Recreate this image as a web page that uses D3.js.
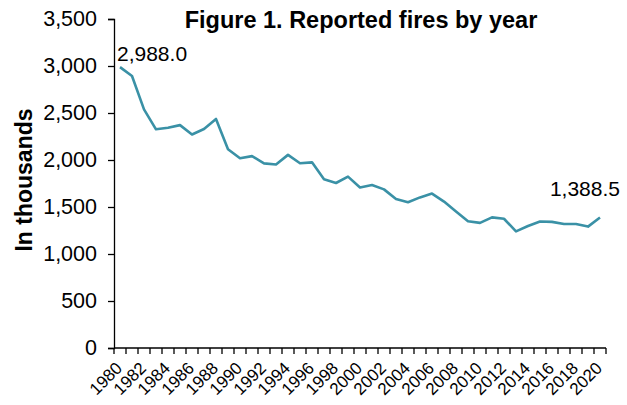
<html>
  <head>
    <script src="https://d3js.org/d3.v7.min.js"></script>
    <style>
      body { margin: 0; background: white; }
      text { font-family: "Liberation Sans", Arial, sans-serif; }
    </style>
  </head>
  <body>
    <script type="text/javascript">
      // data (in thousands)
      var years = d3.range(1980, 2021);
      var fires = [2988.0, 2893.5, 2538.5, 2326.5, 2343.0, 2371.0, 2271.5, 2330.0, 2436.5, 2115.0,
                   2019.0, 2041.5, 1964.5, 1952.5, 2054.5, 1965.5, 1975.0, 1795.0, 1755.5, 1823.0,
                   1708.0, 1734.5, 1687.5, 1584.5, 1550.5, 1602.0, 1642.5, 1557.5, 1451.5, 1348.5,
                   1331.5, 1389.5, 1375.0, 1240.0, 1298.0, 1345.5, 1342.0, 1319.5, 1318.5, 1291.5,
                   1388.5];
      var yTicks = [0, 500, 1000, 1500, 2000, 2500, 3000, 3500];

      var width = 627, height = 405;
      var svg = d3.select("body").append("svg")
        .attr("width", width)
        .attr("height", height);

      var x = d3.scaleBand()
        .domain(years)
        .range([114, 606]);

      var y = d3.scaleLinear()
        .domain([0, 3500])
        .range([348, 19]);

      // y axis
      var yAxis = d3.axisLeft(y)
        .tickValues(yTicks)
        .tickFormat(d3.format(","))
        .tickSize(6)
        .tickPadding(11);
      var yg = svg.append("g")
        .attr("transform", "translate(114,0)")
        .call(yAxis);
      yg.select(".domain").attr("stroke", "#000").attr("stroke-width", 1.3);
      yg.selectAll(".tick line").attr("stroke", "#000").attr("stroke-width", 1.3);
      yg.selectAll(".tick text")
        .attr("font-size", "21.5px")
        .attr("font-family", "Liberation Sans, Arial, sans-serif")
        .attr("fill", "#000");

      // x axis: ticks between categories
      var xg = svg.append("g")
        .attr("transform", "translate(0,348)");
      xg.append("line")
        .attr("x1", x.range()[0]).attr("x2", x.range()[1])
        .attr("stroke", "#000").attr("stroke-width", 1.3);
      var tickPos = years.map(function (d) { return x(d); }).concat([x.range()[1]]);
      xg.selectAll(".xt").data(tickPos).enter().append("line")
        .attr("class", "xt")
        .attr("x1", function (d) { return d; })
        .attr("x2", function (d) { return d; })
        .attr("y1", 0).attr("y2", 6)
        .attr("stroke", "#000").attr("stroke-width", 1.3);
      xg.selectAll(".xl").data(years.filter(function (d) { return d % 2 === 0; }))
        .enter().append("text")
        .attr("class", "xl")
        .attr("transform", function (d) {
          return "translate(" + (x(d) + x.bandwidth() / 2 - 1) + ",17) rotate(-45)";
        })
        .attr("text-anchor", "end")
        .attr("dy", "0.35em")
        .attr("font-size", "17px")
        .attr("fill", "#000")
        .text(function (d) { return d; });

      // line
      var line = d3.line()
        .x(function (d, i) { return x(years[i]) + x.bandwidth() / 2; })
        .y(function (d) { return y(d); });
      svg.append("path")
        .datum(fires)
        .attr("fill", "none")
        .attr("stroke", "#3a91a6")
        .attr("stroke-width", 2.6)
        .attr("stroke-linejoin", "round")
        .attr("d", line);

      // data labels
      svg.append("text")
        .attr("x", x(years[0]) + 3)
        .attr("y", y(fires[0]) - 6)
        .attr("font-size", "21px")
        .text(d3.format(",.1f")(fires[0]));
      svg.append("text")
        .attr("x", x(years[years.length - 1]) + x.bandwidth() / 2 + 20)
        .attr("y", y(fires[fires.length - 1]) - 21)
        .attr("text-anchor", "end")
        .attr("font-size", "21px")
        .text(d3.format(",.1f")(fires[fires.length - 1]));

      // title
      svg.append("text")
        .attr("x", 361)
        .attr("y", 28)
        .attr("text-anchor", "middle")
        .attr("font-size", "23.5px")
        .attr("font-weight", "bold")
        .text("Figure 1. Reported fires by year");

      // y axis title
      svg.append("text")
        .attr("transform", "translate(32,180) rotate(-90)")
        .attr("text-anchor", "middle")
        .attr("font-size", "23px")
        .attr("font-weight", "bold")
        .text("In thousands");
    </script>
  </body>
</html>
